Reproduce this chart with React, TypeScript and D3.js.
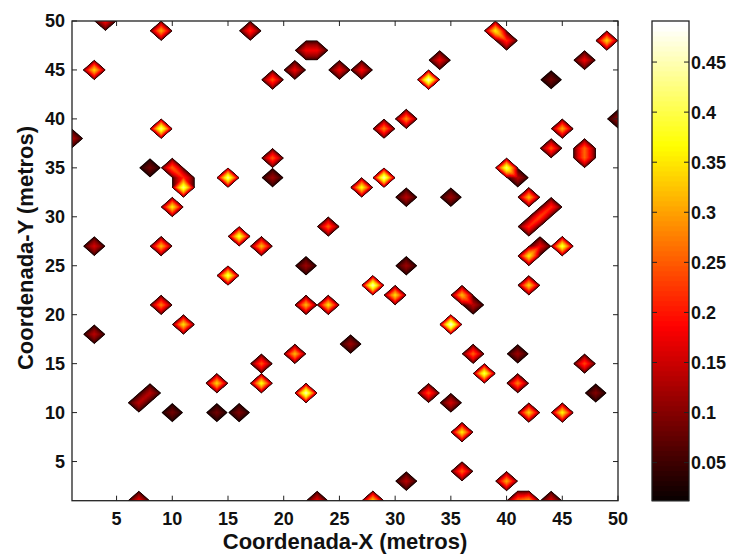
import React, { useMemo } from "react";
import * as d3 from "d3";

// grid points (metros) with their value; everything else on the 50x50 grid is 0
const pointX = [4, 9, 17, 22, 23, 3, 19, 21, 25, 27, 33, 34, 39, 40, 44, 47, 49,
  50, 1, 9, 29, 31, 45, 44, 47, 47, 8, 10, 11, 11, 15, 19, 19, 29, 27, 31, 35,
  40, 41, 42, 10, 42, 43, 44, 3, 9, 16, 18, 24, 42, 43, 45, 22, 31, 15, 28, 30,
  42, 36, 37, 9, 22, 24, 35, 11, 3, 26, 21, 37, 41, 18, 47, 38, 14, 18, 41, 7,
  8, 22, 33, 48, 10, 14, 16, 35, 42, 45, 36, 36, 31, 40, 7, 23, 28, 41, 42, 44];
const pointY = [50, 49, 49, 47, 47, 45, 44, 45, 45, 45, 44, 46, 49, 48, 44, 46, 48,
  40, 38, 39, 39, 40, 39, 37, 37, 36, 35, 35, 34, 33, 34, 36, 34, 34, 33, 32, 32,
  35, 34, 32, 31, 29, 30, 31, 27, 27, 28, 27, 29, 26, 27, 27, 25, 25, 24, 23, 22,
  23, 22, 21, 21, 21, 21, 19, 19, 18, 17, 16, 16, 16, 15, 15, 14, 13, 13, 13, 11,
  12, 12, 12, 12, 10, 10, 10, 11, 10, 10, 8, 4, 3, 3, 1, 1, 1, 1, 1, 1];
const pointValue = [0.19, 0.31, 0.22, 0.18, 0.18, 0.34, 0.25, 0.18, 0.18, 0.19, 0.46, 0.18, 0.36, 0.22, 0.09, 0.18, 0.34,
  0.12, 0.14, 0.43, 0.28, 0.29, 0.31, 0.25, 0.26, 0.26, 0.09, 0.26, 0.22, 0.43, 0.43, 0.25, 0.12, 0.45, 0.38, 0.14, 0.12,
  0.42, 0.14, 0.32, 0.36, 0.22, 0.24, 0.22, 0.16, 0.32, 0.4, 0.32, 0.26, 0.36, 0.18, 0.4, 0.12, 0.12, 0.41, 0.45, 0.35,
  0.34, 0.32, 0.14, 0.28, 0.32, 0.35, 0.47, 0.35, 0.14, 0.12, 0.32, 0.26, 0.12, 0.25, 0.24, 0.41, 0.34, 0.38, 0.28, 0.14,
  0.14, 0.45, 0.24, 0.1, 0.09, 0.09, 0.1, 0.16, 0.34, 0.37, 0.36, 0.26, 0.14, 0.31, 0.18, 0.18, 0.34, 0.26, 0.3, 0.17];

const xTicks = [5, 10, 15, 20, 25, 30, 35, 40, 45, 50];
const yTicks = [5, 10, 15, 20, 25, 30, 35, 40, 45, 50];
const colorTicks = [0.05, 0.1, 0.15, 0.2, 0.25, 0.3, 0.35, 0.4, 0.45];
const colorDomain = [0.012, 0.491];

const width = 732;
const height = 554;
const plot = { left: 72, right: 618, top: 21, bottom: 500.7 };
const bar = { left: 652, right: 689 };
const font = "'Liberation Sans', Arial, sans-serif";

const xScale = d3.scaleLinear().domain([1, 50]).range([plot.left, plot.right]);
const yScale = d3.scaleLinear().domain([1, 50]).range([plot.bottom, plot.top]);
const cScale = d3.scaleLinear().domain(colorDomain).range([plot.bottom, plot.top]);

// matlab "hot"
const hot = (v: number) => {
  const s = Math.max(0, Math.min(1, (v - colorDomain[0]) / (colorDomain[1] - colorDomain[0])));
  const cl = (t: number) => Math.max(0, Math.min(1, t));
  const r = cl((s + 1 / 64) / 0.375);
  const g = cl((s - 0.375 + 1 / 64) / 0.375);
  const b = cl((s - 0.75 + 1 / 64) / 0.25);
  return d3.rgb(r * 255, g * 255, b * 255).formatHex();
};

const K = 8; // upsampling of the grid
const N = 49 * K + 1;
const PROFILE = 0.55; // <1 gives a flatter top, thin dark rim

// piecewise linear interpolation on a triangulation that links diagonal neighbours
const interp = (gv: (i: number, j: number) => number, gw: (i: number, j: number) => number, u: number, v: number) => {
  const i = Math.min(Math.floor(u), 48), j = Math.min(Math.floor(v), 48);
  const fx = u - i, fy = v - j;
  const A = gv(i, j), B = gv(i + 1, j), C = gv(i + 1, j + 1), D = gv(i, j + 1);
  const mAC = Math.min(A, C), mBD = Math.min(B, D);
  let splitAC;
  if (mAC > mBD) splitAC = true;
  else if (mBD > mAC) splitAC = false;
  else {
    const mx = Math.max(A, B, C, D);
    splitAC = !(mx === A || mx === C);
  }
  const tri = (a: number, b: number, c: number, d: number) => {
    if (splitAC) {
      if (fx >= fy) return a + (b - a) * fx + (c - b) * fy;
      return a + (c - d) * fx + (d - a) * fy;
    }
    if (fx + fy <= 1) return a + (b - a) * fx + (d - a) * fy;
    return c + (d - c) * (1 - fx) + (b - c) * (1 - fy);
  };
  const f = tri(A, B, C, D);
  const m = tri(gw(i, j), gw(i + 1, j), gw(i + 1, j + 1), gw(i, j + 1));
  return m > 1e-9 ? f * Math.pow(m, PROFILE - 1) : 0;
};

const useContours = () =>
  useMemo(() => {
    const grid = new Float64Array(50 * 50);
    pointX.forEach((x, i) => {
      grid[(pointY[i] - 1) * 50 + (x - 1)] = pointValue[i];
    });
    const gv = (i: number, j: number) => grid[j * 50 + i];
    const gw = (i: number, j: number) => (grid[j * 50 + i] > 0 ? 1 : 0);
    const values = new Array(N * N);
    for (let fj = 0; fj < N; fj++) {
      for (let fi = 0; fi < N; fi++) {
        values[fj * N + fi] = interp(gv, gw, fi / K, fj / K);
      }
    }
    const levels = d3.range(64).map((i) => colorDomain[0] + (i * (colorDomain[1] - colorDomain[0])) / 64);
    const contours = d3.contours().size([N, N]).thresholds(levels)(values);
    const proj = d3.geoTransform({
      point(x, y) {
        this.stream.point(xScale(1 + (x - 0.5) / K), yScale(1 + (y - 0.5) / K));
      },
    });
    const path = d3.geoPath(proj);
    return contours
      .filter((c) => c.coordinates.length > 0)
      .map((c) => ({ d: path(c), fill: hot(c.value) }));
  }, []);

export default function App() {
  const bands = useContours();
  const colorSteps = d3.range(96).map((i) => colorDomain[0] + (i * (colorDomain[1] - colorDomain[0])) / 96);
  const step = (colorDomain[1] - colorDomain[0]) / 96;

  return (
    <svg
      width={width}
      height={height}
      style={{ position: "absolute", left: 0, top: 0, background: "white" }}
      fontFamily={font}
    >
      <defs>
        <clipPath id="plotClip">
          <rect x={plot.left} y={plot.top} width={plot.right - plot.left} height={plot.bottom - plot.top} />
        </clipPath>
      </defs>
      <g clipPath="url(#plotClip)">
        {bands.map((b, i) => (
          <path key={i} d={b.d} fill={b.fill} stroke={b.fill} strokeWidth={0.3} />
        ))}
      </g>

      {/* axes box + ticks */}
      <rect
        x={plot.left}
        y={plot.top}
        width={plot.right - plot.left}
        height={plot.bottom - plot.top}
        fill="none"
        stroke="#222"
        strokeWidth={1.3}
      />
      {xTicks.map((t) => (
        <g key={"x" + t}>
          <line x1={xScale(t)} x2={xScale(t)} y1={plot.bottom} y2={plot.bottom - 5} stroke="#222" />
          <line x1={xScale(t)} x2={xScale(t)} y1={plot.top} y2={plot.top + 5} stroke="#222" />
          <text x={xScale(t)} y={525} textAnchor="middle" fontSize={18} fontWeight="bold" fill="#111">
            {t}
          </text>
        </g>
      ))}
      {yTicks.map((t) => (
        <g key={"y" + t}>
          <line x1={plot.left} x2={plot.left + 5} y1={yScale(t)} y2={yScale(t)} stroke="#222" />
          <line x1={plot.right} x2={plot.right - 5} y1={yScale(t)} y2={yScale(t)} stroke="#222" />
          <text x={65} y={yScale(t)} dy="0.36em" textAnchor="end" fontSize={18} fontWeight="bold" fill="#111">
            {t}
          </text>
        </g>
      ))}
      <text x={(plot.left + plot.right) / 2} y={549} textAnchor="middle" fontSize={22} fontWeight="bold" fill="#111">
        Coordenada-X (metros)
      </text>
      <text
        transform={`translate(33,${248}) rotate(-90)`}
        textAnchor="middle"
        fontSize={22}
        fontWeight="bold"
        fill="#111"
      >
        Coordenada-Y (metros)
      </text>

      {/* colorbar */}
      {colorSteps.map((v, i) => (
        <rect
          key={i}
          x={bar.left}
          width={bar.right - bar.left}
          y={cScale(v + step)}
          height={cScale(v) - cScale(v + step) + 0.5}
          fill={hot(v)}
        />
      ))}
      <rect
        x={bar.left}
        y={plot.top}
        width={bar.right - bar.left}
        height={plot.bottom - plot.top}
        fill="none"
        stroke="#222"
        strokeWidth={1.3}
      />
      {colorTicks.map((t) => (
        <g key={"c" + t}>
          <line x1={bar.left} x2={bar.left + 5} y1={cScale(t)} y2={cScale(t)} stroke="#222" />
          <line x1={bar.right} x2={bar.right - 5} y1={cScale(t)} y2={cScale(t)} stroke="#222" />
          <text x={bar.right + 2} y={cScale(t)} dy="0.36em" fontSize={18} fontWeight="bold" fill="#111">
            {t}
          </text>
        </g>
      ))}
    </svg>
  );
}
